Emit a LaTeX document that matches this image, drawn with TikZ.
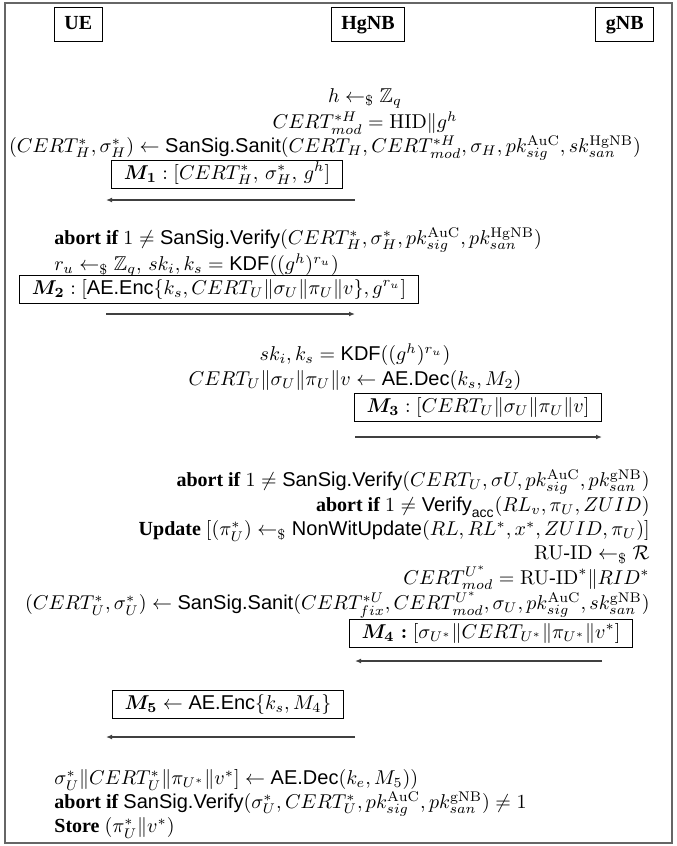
\documentclass[tikz,border=0pt]{standalone}
\usepackage{amsmath,amssymb}
\usepackage[no-math]{fontspec}
\setmainfont{Liberation Serif}
\setsansfont{Liberation Sans}
\usetikzlibrary{arrows.meta}

\newcommand{\smp}{\mathrel{\leftarrow_{\$}}}
\newcommand{\alg}[1]{\textsf{#1}}
\newcommand{\rmid}{\mathrm{RU}\text{-}\mathrm{ID}}

\begin{document}
\begin{tikzpicture}[x=0.5pt, y=-0.5pt,
    every node/.style={inner sep=0pt},
    uecol/.style={anchor=west},
    hgcol/.style={anchor=center},
    gncol/.style={anchor=east},
    party/.style={draw, font=\bfseries, inner xsep=5pt, inner ysep=4pt,
                  text height=7pt, text depth=2pt},
    msgbox/.style={draw, inner xsep=6pt, inner ysep=1.5pt,
                   text height=8pt, text depth=3pt, line width=0.5pt},
    msgarrow/.style={-{Latex[length=3pt,width=2.4pt]}, line width=0.6pt,
                     black!75}
  ]
  % Background
  \useasboundingbox (0,0) rectangle (676,846);
  \draw[black!60, line width=1pt] (5,3) rectangle (672,843);

  % Parties
  \node[party, anchor=west] (ue) at (54,24) {UE};
  \node[party] (hg) at (368,24) {HgNB};
  \node[party, anchor=east] (gn) at (654,24) {gNB};

  % HgNB: sanitize certificate
  \node[hgcol] (h1) at (365,98) {$h \smp \mathbb{Z}_q$};
  \node[hgcol] (h2) at (365,123) {$CERT^{*H}_{mod} = \mathrm{HID}\|g^h$};
  \node[hgcol] (h3) at (325,148) {$(CERT^*_H, \sigma^*_H) \leftarrow
    \alg{SanSig.Sanit}(CERT_H, CERT^{*H}_{mod}, \sigma_H,
    pk^{\mathrm{AuC}}_{sig}, sk^{\mathrm{HgNB}}_{san})$};

  % M1
  \node[msgbox] (m1) at (227,174)
    {$\boldsymbol{M_1}: [CERT^*_H,\, \sigma^*_H,\, g^h]$};
  \coordinate (m1a) at (355,200);
  \coordinate (m1b) at (106,200);
  \draw[msgarrow] (m1a) -- (m1b);

  % UE: verify and encrypt
  \node[uecol] (u1) at (54,240) {\textbf{abort if} $1 \neq
    \alg{SanSig.Verify}(CERT^*_H, \sigma^*_H, pk^{\mathrm{AuC}}_{sig},
    pk^{\mathrm{HgNB}}_{san})$};
  \node[uecol] (u2) at (54,265)
    {$r_u \smp \mathbb{Z}_q,\, sk_i, k_s = \alg{KDF}((g^h)^{r_u})$};

  % M2
  \node[msgbox] (m2) at (219,289) {$\boldsymbol{M_2}: [\alg{AE.Enc}\{k_s,
    CERT_U\|\sigma_U\|\pi_U\|v\}, g^{r_u}]$};
  \coordinate (m2a) at (106,314);
  \coordinate (m2b) at (355,314);
  \draw[msgarrow] (m2a) -- (m2b);

  % HgNB: decrypt
  \node[hgcol] (h4) at (355,355) {$sk_i, k_s = \alg{KDF}((g^h)^{r_u})$};
  \node[hgcol] (h5) at (355,380)
    {$CERT_U\|\sigma_U\|\pi_U\|v \leftarrow \alg{AE.Dec}(k_s, M_2)$};

  % M3
  \node[msgbox] (m3) at (478,407)
    {$\boldsymbol{M_3}: [CERT_U\|\sigma_U\|\pi_U\|v]$};
  \coordinate (m3a) at (355,437);
  \coordinate (m3b) at (602,437);
  \draw[msgarrow] (m3a) -- (m3b);

  % gNB: verify, update, sanitize
  \node[gncol] (g1) at (650,482) {\textbf{abort if} $1 \neq
    \alg{SanSig.Verify}(CERT_U, \sigma U, pk^{\mathrm{AuC}}_{sig},
    pk^{\mathrm{gNB}}_{san})$};
  \node[gncol] (g2) at (650,507) {\textbf{abort if} $1 \neq
    \alg{Verify}_{\alg{acc}}(RL_v, \pi_U, ZUID)$};
  \node[gncol] (g3) at (650,531) {\textbf{Update} $[(\pi^*_U) \smp
    \alg{NonWitUpdate}(RL, RL^*, x^*, ZUID, \pi_U)]$};
  \node[gncol] (g4) at (650,555) {$\rmid \smp \mathcal{R}$};
  \node[gncol] (g5) at (650,578) {$CERT^{U^*}_{mod} = \rmid^*\|RID^*$};
  \node[gncol] (g6) at (650,605) {$(CERT^*_U, \sigma^*_U) \leftarrow
    \alg{SanSig.Sanit}(CERT^{*U}_{fix}, CERT^{U^*}_{mod}, \sigma_U,
    pk^{\mathrm{AuC}}_{sig}, sk^{\mathrm{gNB}}_{san})$};

  % M4
  \node[msgbox] (m4) at (491,633)
    {$\boldsymbol{M_4:} [\sigma_{U^*}\|CERT_{U^*}\|\pi_{U^*}\|v^*]$};
  \coordinate (m4a) at (602,661);
  \coordinate (m4b) at (355,661);
  \draw[msgarrow] (m4a) -- (m4b);

  % M5
  \node[msgbox] (m5) at (228,704)
    {$\boldsymbol{M_5} \leftarrow \alg{AE.Enc}\{k_s, M_4\}$};
  \coordinate (m5a) at (355,737);
  \coordinate (m5b) at (106,737);
  \draw[msgarrow] (m5a) -- (m5b);

  % UE: decrypt and store
  \node[uecol] (u3) at (54,780) {$\sigma^*_U\|CERT^*_U\|\pi_{U^*}\|v^*]
    \leftarrow \alg{AE.Dec}(k_e, M_5))$};
  \node[uecol] (u4) at (54,804) {\textbf{abort if}
    $\alg{SanSig.Verify}(\sigma^*_U, CERT^*_U, pk^{\mathrm{AuC}}_{sig},
    pk^{\mathrm{gNB}}_{san}) \neq 1$};
  \node[uecol] (u5) at (54,828) {\textbf{Store} $(\pi^*_U\|v^*)$};
\end{tikzpicture}
\end{document}
